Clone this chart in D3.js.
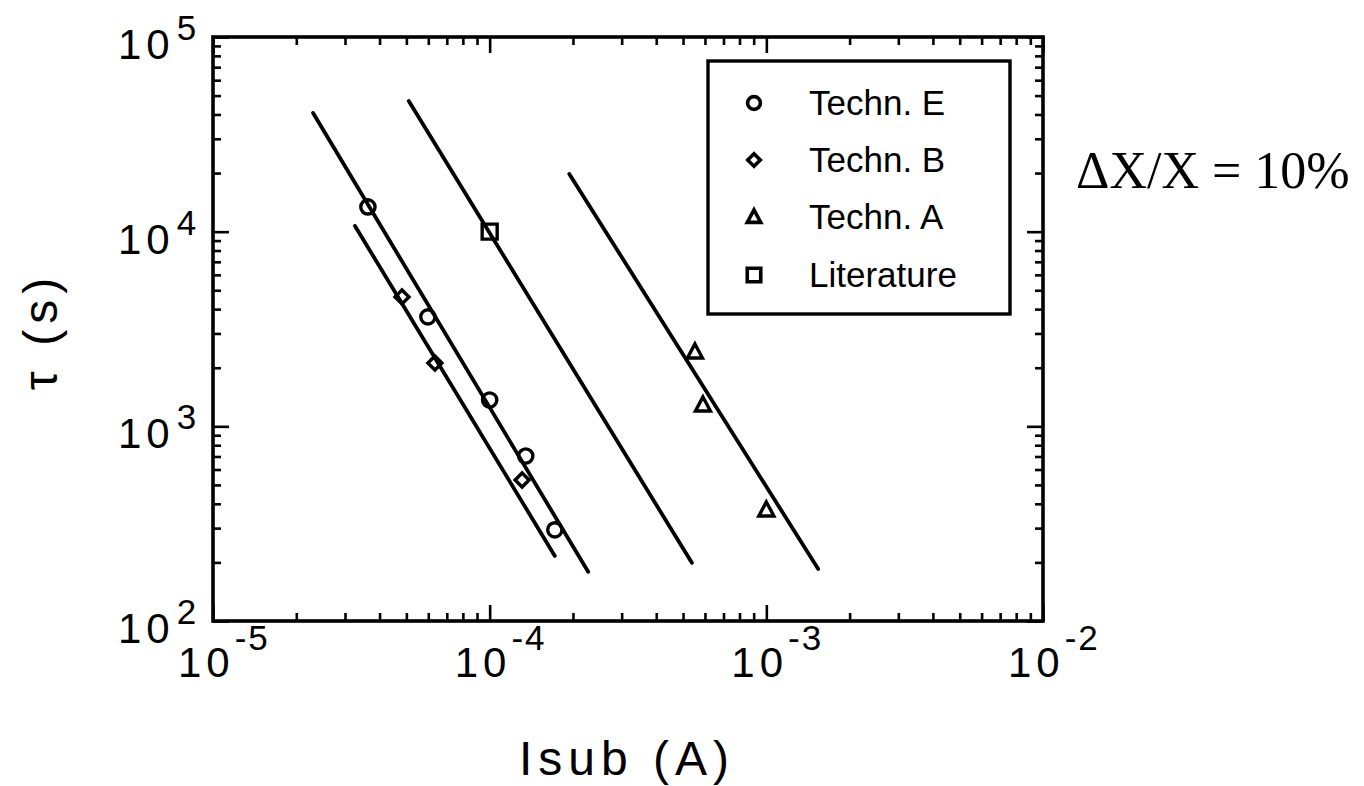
<!DOCTYPE html>
<html>
<head>
<meta charset="utf-8">
<script src="https://cdn.jsdelivr.net/npm/d3@7/dist/d3.min.js"></script>
<style>
  html, body { margin: 0; padding: 0; background: #fff; }
  svg { display: block; }
</style>
</head>
<body>
<svg id="chart" width="1364" height="786"></svg>
<script>
// Substrate current vs. lifetime, log-log
const xMajorTicks = [1e-5, 1e-4, 1e-3, 1e-2];
const xTickExponents = ["-5", "-4", "-3", "-2"];
const yMajorTicks = [1e2, 1e3, 1e4, 1e5];
const yTickExponents = ["2", "3", "4", "5"];

// measured points [Isub (A), tau (s)]
const technE = [[3.63e-5, 1.34e4], [5.98e-5, 3650], [1.0e-4, 1366], [1.35e-4, 704], [1.72e-4, 294]];
const technB = [[4.82e-5, 4620], [6.34e-5, 2115], [1.31e-4, 530]];
const technA = [[5.52e-4, 2410], [5.90e-4, 1288], [1.0e-3, 372]];
const literature = [[1.0e-4, 1.0e4]];

// fitted lines (end points)
const fitE = [[2.30e-5, 4.07e4], [2.27e-4, 179]];
const fitB = [[3.26e-5, 1.07e4], [1.72e-4, 216]];
const fitLit = [[5.10e-5, 4.69e4], [5.38e-4, 199]];
const fitA = [[1.94e-4, 1.98e4], [1.54e-3, 185]];

const legendLabels = ["Techn. E", "Techn. B", "Techn. A", "Literature"];
const legendSymbols = ["circle", "diamond", "triangle", "square"];

const svg = d3.select("#chart");
const plotL = 213, plotR = 1043, plotT = 37, plotB = 621;

const x = d3.scaleLog().domain([1e-5, 1e-2]).range([plotL, plotR]);
const y = d3.scaleLog().domain([1e2, 1e5]).range([plotB, plotT]);

function minorTicks(domain) {
  const out = [];
  const lo = Math.round(Math.log10(domain[0])), hi = Math.round(Math.log10(domain[1]));
  for (let e = lo; e < hi; e++) for (let k = 2; k <= 9; k++) out.push(k * Math.pow(10, e));
  return out;
}
const xMinor = minorTicks(x.domain());
const yMinor = minorTicks(y.domain());

const tickStyle = g => {
  g.select(".domain").remove();
  g.selectAll(".tick line").attr("stroke", "#000").attr("stroke-width", 2.6);
  g.selectAll(".tick text").remove();
};

// ticks on all four sides, pointing inward
const axes = [
  [d3.axisBottom(x), `translate(0,${plotB})`],
  [d3.axisTop(x), `translate(0,${plotT})`],
  [d3.axisLeft(y), `translate(${plotL},0)`],
  [d3.axisRight(y), `translate(${plotR},0)`]
];
axes.forEach(([axis, tr], i) => {
  const isX = i < 2;
  svg.append("g").attr("transform", tr)
    .call(axis.tickValues(isX ? xMajorTicks : yMajorTicks).tickSize(-16).tickFormat(""))
    .call(tickStyle);
  svg.append("g").attr("transform", tr)
    .call(axis.tickValues(isX ? xMinor : yMinor).tickSize(-8).tickFormat(""))
    .call(tickStyle);
});

// frame
svg.append("rect")
  .attr("x", plotL).attr("y", plotT)
  .attr("width", plotR - plotL).attr("height", plotB - plotT)
  .attr("fill", "none").attr("stroke", "#000").attr("stroke-width", 3.6);

const font = "'Liberation Sans', Arial, sans-serif";

// x tick labels: 10 with superscript exponent
xMajorTicks.forEach((v, i) => {
  const t = svg.append("text")
    .attr("x", x(v) - 35).attr("y", 677)
    .attr("font-family", font).attr("font-size", 42)
    .attr("letter-spacing", 5).attr("fill", "#000");
  t.append("tspan").text("10");
  t.append("tspan").attr("dy", -27).attr("font-size", 35).attr("letter-spacing", 2).text(xTickExponents[i]);
});

// y tick labels
yMajorTicks.forEach((v, i) => {
  const t = svg.append("text")
    .attr("x", 118).attr("y", y(v) + 22)
    .attr("font-family", font).attr("font-size", 42)
    .attr("letter-spacing", 5).attr("fill", "#000");
  t.append("tspan").text("10");
  t.append("tspan").attr("dy", -19).attr("dx", 2).attr("font-size", 35).text(yTickExponents[i]);
});

// axis titles
svg.append("text")
  .attr("x", 627).attr("y", 775)
  .attr("text-anchor", "middle")
  .attr("font-family", font).attr("font-size", 48)
  .attr("letter-spacing", 6).attr("fill", "#000")
  .text("Isub (A)");

svg.append("text")
  .attr("transform", "translate(57,331) rotate(-90)")
  .attr("text-anchor", "middle")
  .attr("font-family", font).attr("font-size", 48)
  .attr("letter-spacing", 6).attr("fill", "#000")
  .text("τ (s)");

// annotation
svg.append("text")
  .attr("x", 1076).attr("y", 188)
  .attr("font-family", "'Liberation Serif', 'Times New Roman', serif")
  .attr("font-size", 52).attr("fill", "#000")
  .text("ΔX/X = 10%");

// fitted lines
const line = d3.line().x(d => x(d[0])).y(d => y(d[1]));
[fitE, fitB, fitLit, fitA].forEach(f => {
  svg.append("path").attr("d", line(f))
    .attr("fill", "none").attr("stroke", "#000").attr("stroke-width", 3.8)
    .attr("stroke-linecap", "round");
});

// marker shapes
function symbolPath(kind) {
  switch (kind) {
    case "circle": return d3.symbol(d3.symbolCircle, 160)();
    case "diamond": return "M0,-7L7,0L0,7L-7,0Z";
    case "triangle": return "M0,-8L7.5,6L-7.5,6Z";
    case "square": return "M-7.5,-7.5H7.5V7.5H-7.5Z";
  }
}
function drawMarkers(data, kind) {
  svg.append("g").selectAll("path").data(data).join("path")
    .attr("d", symbolPath(kind))
    .attr("transform", d => `translate(${x(d[0])},${y(d[1])})`)
    .attr("fill", "none").attr("stroke", "#000").attr("stroke-width", 3.4);
}
drawMarkers(technE, "circle");
drawMarkers(technB, "diamond");
drawMarkers(technA, "triangle");
drawMarkers(literature, "square");

// legend
const lg = svg.append("g");
lg.append("rect")
  .attr("x", 708).attr("y", 61).attr("width", 302).attr("height", 253)
  .attr("fill", "#fff").attr("stroke", "#000").attr("stroke-width", 3.4);
const rowY = [103, 160, 217, 275];
legendLabels.forEach((lab, i) => {
  lg.append("path")
    .attr("d", symbolPath(legendSymbols[i]))
    .attr("transform", `translate(754,${rowY[i]}) scale(0.9)`)
    .attr("fill", "none").attr("stroke", "#000").attr("stroke-width", 4);
  lg.append("text")
    .attr("x", 809).attr("y", rowY[i] + 12)
    .attr("font-family", font).attr("font-size", 35).attr("fill", "#000")
    .text(lab);
});
</script>
</body>
</html>
